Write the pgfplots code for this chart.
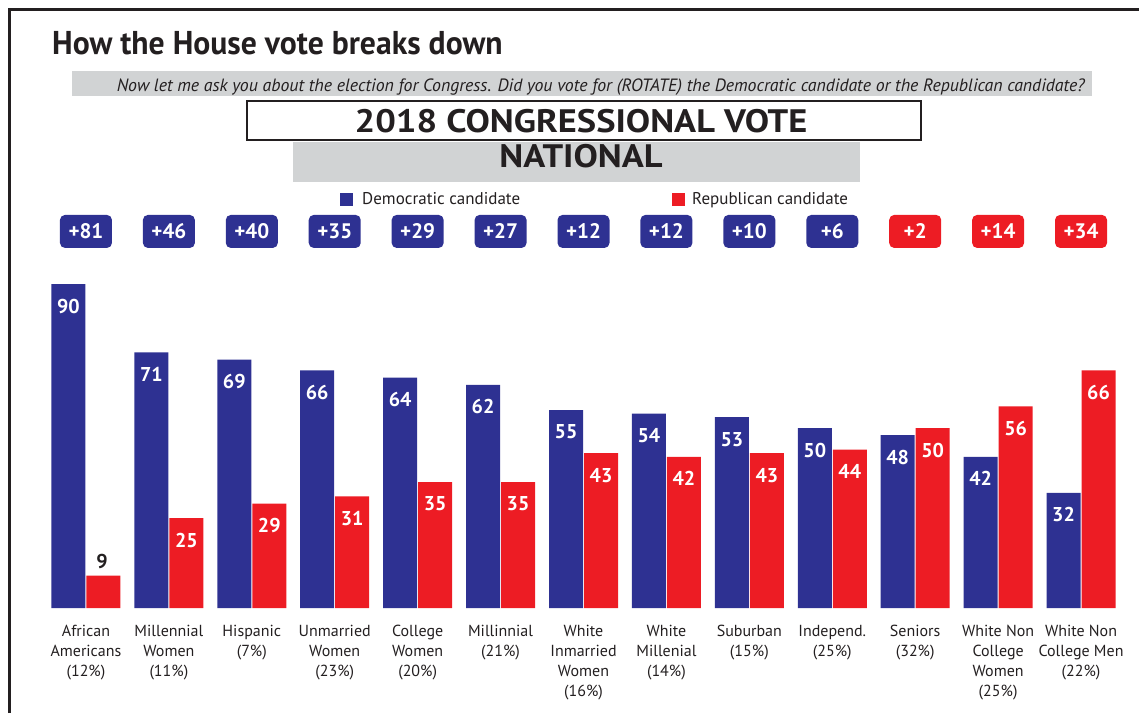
\documentclass[border=0pt]{standalone}
\usepackage{fontspec}
\setmainfont{PT Sans}
\newfontfamily\titlefont[FakeStretch=0.96]{PT Sans}
\newfontfamily\headfont[FakeStretch=1.12]{PT Sans}
\usepackage{pgfplots}
\pgfplotsset{compat=1.18}
\definecolor{demblue}{HTML}{2E3192}
\definecolor{repred}{HTML}{ED1C24}
\definecolor{bandgray}{HTML}{D1D3D4}
\definecolor{inkblack}{HTML}{231F20}

\begin{document}
\begin{tikzpicture}
\begin{scope}[x=1pt,y=1pt]
\path[use as bounding box] (0,0) rectangle (1139,713);
% frame
\draw[inkblack, line width=3pt] (9.5,0) -- (9.5,703.5) -- (1139,703.5);
% title
\node[anchor=base west, inner sep=0pt, text=inkblack, font=\titlefont\bfseries\fontsize{33}{36}\selectfont] at (52,658) {How the House vote breaks down};
% subtitle band
\fill[bandgray] (72,617) rectangle (1092,642);
\node[anchor=base east, inner sep=0pt, text=inkblack, font=\itshape\fontsize{17.8}{20}\selectfont] at (1085,621) {Now let me ask you about the election for Congress. Did you vote for (ROTATE) the Democratic candidate or the Republican candidate?};
% heading boxes
\draw[inkblack, line width=1.5pt, fill=white] (247,573) rectangle (921,612);
\node[anchor=base, inner sep=0pt, text=inkblack, font=\headfont\bfseries\fontsize{32.5}{36}\selectfont] at (581,580) {2018 CONGRESSIONAL VOTE};
\fill[bandgray] (293,531) rectangle (860,570.5);
\node[anchor=base, inner sep=0pt, text=inkblack, font=\headfont\bfseries\fontsize{32.5}{36}\selectfont] at (581,545) {NATIONAL};
% legend
\fill[demblue] (340,507) rectangle (353,519.5);
\node[anchor=base west, inner sep=0pt, text=inkblack, font=\fontsize{17}{20}\selectfont] at (362,508) {Democratic candidate};
\fill[repred] (672,507) rectangle (685,519.5);
\node[anchor=base west, inner sep=0pt, text=inkblack, font=\fontsize{17}{20}\selectfont] at (692,508) {Republican candidate};
\end{scope}

\begin{axis}[
  at={(44.5pt,105pt)}, anchor=south west,
  scale only axis, width=1078pt, height=396pt,
  xmin=-0.5, xmax=12.5, ymin=0, ymax=110,
  axis line style={draw=none}, tick style={draw=none},
  ytick=\empty,
  xtick={0,...,12},
  xticklabels={{African\\Americans\\(12\%)},{Millennial\\Women\\(11\%)},{Hispanic\\(7\%)},{Unmarried\\Women\\(23\%)},{College\\Women\\(20\%)},{Millinnial\\(21\%)},{White\\Inmarried\\Women\\(16\%)},{White\\Millenial\\(14\%)},{Suburban\\(15\%)},{Independ.\\(25\%)},{Seniors\\(32\%)},{White Non\\College\\Women\\(25\%)},{White Non\\College Men\\(22\%)}},
  xticklabel style={align=center, font=\fontsize{16}{20}\selectfont, text=inkblack, inner sep=0pt, anchor=north, yshift=-17pt},
  clip=false,
]
% Democratic bars
\addplot[ybar, bar width=34pt, bar shift=-17.5pt, fill=demblue, draw=none,
  point meta=explicit symbolic, nodes near coords={\pgfplotspointmeta},
  nodes near coords align={center},
  nodes near coords style={text=white, anchor=center, xshift=-17.5pt, yshift=-22pt, font=\bfseries\fontsize{20}{20}\selectfont}]
  coordinates {(0,90)[90] (1,71)[71] (2,69)[69] (3,66)[66] (4,64)[64] (5,62)[62] (6,55)[55] (7,54)[54] (8,53)[53] (9,50)[50] (10,48)[48] (11,42)[42] (12,32)[32]};
% Republican bars
\addplot[ybar, bar width=34pt, bar shift=17.5pt, fill=repred, draw=none,
  point meta=explicit symbolic, nodes near coords={\pgfplotspointmeta},
  nodes near coords align={center},
  nodes near coords style={text=white, anchor=center, xshift=17.5pt, yshift=-22pt, font=\bfseries\fontsize{20}{20}\selectfont}]
  coordinates {(0,9)[] (1,25)[25] (2,29)[29] (3,31)[31] (4,35)[35] (5,35)[35] (6,43)[43] (7,42)[42] (8,43)[43] (9,44)[44] (10,50)[50] (11,56)[56] (12,66)[66]};
% label above the short red bar
\addplot[draw=none, mark=none,
  point meta=explicit symbolic, nodes near coords={\pgfplotspointmeta},
  nodes near coords style={text=inkblack, anchor=center, xshift=16pt, yshift=14pt, font=\bfseries\fontsize{20}{20}\selectfont}]
  coordinates {(0,9)[9]};
% margin badges
\addplot[draw=none, mark=none,
  point meta=explicit symbolic, nodes near coords={\pgfplotspointmeta},
  nodes near coords style={fill=demblue, text=white, rounded corners=5pt, minimum width=52pt, minimum height=33pt, inner sep=0pt, anchor=center, font=\bfseries\fontsize{21}{21}\selectfont}]
  coordinates {(0,104.6)[+81] (1,104.6)[+46] (2,104.6)[+40] (3,104.6)[+35] (4,104.6)[+29] (5,104.6)[+27] (6,104.6)[+12] (7,104.6)[+12] (8,104.6)[+10] (9,104.6)[+6]};
\addplot[draw=none, mark=none,
  point meta=explicit symbolic, nodes near coords={\pgfplotspointmeta},
  nodes near coords style={fill=repred, text=white, rounded corners=5pt, minimum width=52pt, minimum height=33pt, inner sep=0pt, anchor=center, font=\bfseries\fontsize{21}{21}\selectfont}]
  coordinates {(10,104.6)[+2] (11,104.6)[+14] (12,104.6)[+34]};
\end{axis}
\end{tikzpicture}
\end{document}
